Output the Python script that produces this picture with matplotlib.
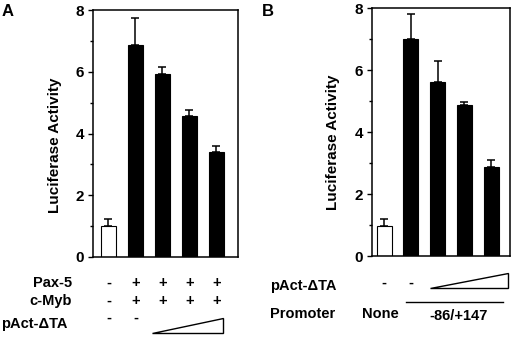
import numpy as np
import matplotlib
matplotlib.use("Agg")
import matplotlib.pyplot as plt
from matplotlib.transforms import blended_transform_factory
from matplotlib.patches import Polygon

plt.rcParams["font.family"] = ["Liberation Sans", "DejaVu Sans"]
plt.rcParams["font.weight"] = "bold"
plt.rcParams["axes.labelweight"] = "bold"
plt.rcParams["font.size"] = 10.5

# ── data ────────────────────────────────────────────────────────────
a_values = [1.0, 6.88, 5.92, 4.58, 3.40]
a_errors = [0.23, 0.87, 0.23, 0.19, 0.21]
a_pax5   = ["-", "+", "+", "+", "+"]
a_cmyb   = ["-", "+", "+", "+", "+"]
a_pact   = ["-", "-"]          # remaining lanes: increasing dose (wedge)

b_values = [0.97, 7.0, 5.62, 4.88, 2.87]
b_errors = [0.21, 0.80, 0.68, 0.10, 0.22]
b_pact   = ["-", "-"]
b_promoter = ["None", "-86/+147"]

bar_colors = ["white", "black", "black", "black", "black"]
yticks = [0, 2, 4, 6, 8]

W, H = 520, 340


def px(x, y):
    """pixel position (from top-left) -> figure fraction"""
    return x / W, 1 - y / H


def draw_panel(ax, values, errors, xlim):
    x = np.arange(len(values))
    ax.bar(x, values, width=0.56, color=bar_colors, edgecolor="black",
           linewidth=0.8, zorder=2)
    ax.errorbar(x, values, yerr=[np.zeros(len(errors)), errors], fmt="none",
                ecolor="black", elinewidth=1.1, capsize=2.6, capthick=1.1,
                zorder=1)
    ax.set_xlim(*xlim)
    ax.set_ylim(0, 8)
    ax.set_yticks(yticks)
    ax.set_yticklabels([str(v) for v in yticks], fontweight="bold", fontsize=11)
    ax.set_yticks([1, 3, 5, 7], minor=True)
    ax.set_xticks([])
    ax.tick_params(axis="y", which="major", length=3.5, width=1.0, pad=3)
    ax.tick_params(axis="y", which="minor", length=2.5, width=1.0)
    for s in ax.spines.values():
        s.set_linewidth(1.1)
    ax.set_ylabel("Luciferase Activity", fontsize=11, fontweight="bold")
    return x


fig = plt.figure(figsize=(W / 100, H / 100), dpi=100)

# ── panel A ─────────────────────────────────────────────────────────
l, b = px(93, 257)
r, t = px(238, 10)
axA = fig.add_axes([l, b, r - l, t - b])
xa = draw_panel(axA, a_values, a_errors, (-0.57, 4.8))
axA.yaxis.set_label_coords(-0.214, 0.453)

trA = blended_transform_factory(axA.transData, fig.transFigure)
for name, row, ypx in [("Pax-5", a_pax5, 283), ("c-Myb", a_cmyb, 301)]:
    fig.text(*px(72, ypx), name, ha="right", va="center")
    for xi, s in zip(xa, row):
        axA.text(xi, px(0, ypx)[1], s, ha="center", va="center", transform=trA)
fig.text(*px(68, 324), "pAct-\u0394TA", ha="right", va="center")
for xi, s in zip(xa, a_pact):
    axA.text(xi, px(0, 318)[1], s, ha="center", va="center", transform=trA)
wedge = Polygon([(xa[2] - 0.37, px(0, 333)[1]), (xa[4] + 0.26, px(0, 333)[1]),
                 (xa[4] + 0.26, px(0, 318)[1])], closed=True, facecolor="white",
                edgecolor="black", linewidth=1.0, transform=trA, clip_on=False)
fig.add_artist(wedge)
fig.text(*px(2, 11), "A", ha="left", va="center", fontsize=12)

# ── panel B ─────────────────────────────────────────────────────────
l, b = px(372, 256)
r, t = px(510, 8)
axB = fig.add_axes([l, b, r - l, t - b])
xb = draw_panel(axB, b_values, b_errors, (-0.45, 4.71))
axB.yaxis.set_label_coords(-0.232, 0.458)

trB = blended_transform_factory(axB.transData, fig.transFigure)
fig.text(*px(270, 286), "pAct-\u0394TA", ha="left", va="center")
for xi, s in zip(xb, b_pact):
    axB.text(xi, px(0, 283)[1], s, ha="center", va="center", transform=trB)
wedge = Polygon([(xb[2] - 0.3, px(0, 288)[1]), (xb[4] + 0.64, px(0, 288)[1]),
                 (xb[4] + 0.64, px(0, 273)[1])], closed=True, facecolor="white",
                edgecolor="black", linewidth=1.0, transform=trB, clip_on=False)
fig.add_artist(wedge)
fig.text(*px(270, 314), "Promoter", ha="left", va="center")
axB.text(xb[0] - 0.15, px(0, 314)[1], b_promoter[0], ha="center", va="center",
         transform=trB)
axB.plot([xb[1] - 0.19, xb[4] + 0.45], [px(0, 302)[1]] * 2, color="black",
         linewidth=1.0, transform=trB, clip_on=False)
axB.text((xb[1] + xb[4]) / 2 + 0.3, px(0, 316)[1], b_promoter[1], ha="center",
         va="center", transform=trB)
fig.text(*px(262, 11), "B", ha="left", va="center", fontsize=12)

fig.savefig("out.png", dpi=100)
